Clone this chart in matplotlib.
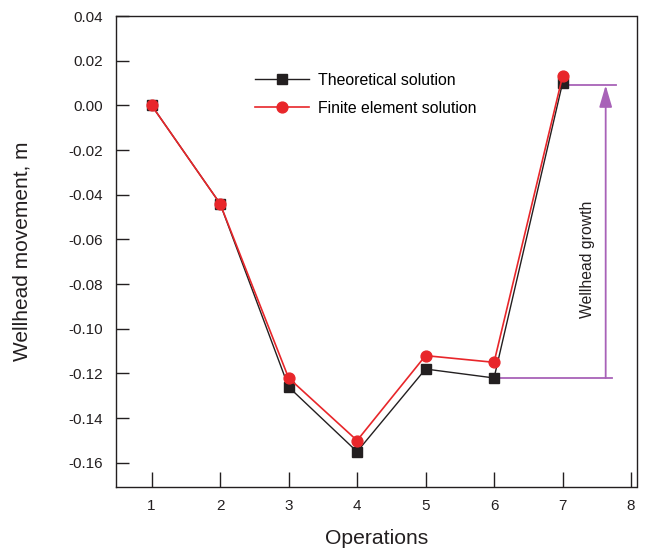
import matplotlib
matplotlib.use("Agg")
import matplotlib.pyplot as plt

plt.rcParams['font.family'] = ['Liberation Sans', 'DejaVu Sans']

operations = [1, 2, 3, 4, 5, 6, 7]
theoretical = [0.000, -0.044, -0.126, -0.155, -0.118, -0.122, 0.010]
finite_element = [0.000, -0.044, -0.122, -0.150, -0.112, -0.115, 0.013]
xticks = [1, 2, 3, 4, 5, 6, 7, 8]
yticks = [-0.16, -0.14, -0.12, -0.10, -0.08, -0.06, -0.04, -0.02, 0.00, 0.02, 0.04]

black = '#231f20'
red = '#e8262a'
purple = '#a862b8'

fig = plt.figure(figsize=(6.5, 5.49), dpi=100)
ax = fig.add_axes([116/650, 1 - 487/549, (636.5 - 116)/650, (487 - 16)/549])

ax.plot(operations, theoretical, color=black, lw=1.0, marker='s', ms=6.8,
        mec=black, mfc=black, label='Theoretical solution', zorder=3)
ax.plot(operations, finite_element, color=red, lw=1.2, marker='o', ms=7.8,
        mec=red, mfc=red, label='Finite element solution', zorder=4)

# Wellhead growth annotation
ax.plot([6.05, 7.72], [theoretical[5], theoretical[5]], color=purple, lw=1.3, zorder=2)
ax.plot([7.05, 7.78], [0.009, 0.009], color=purple, lw=1.3, zorder=2)
ax.annotate('', xy=(7.63, 0.009), xytext=(7.63, theoretical[5]),
            arrowprops=dict(arrowstyle='-|>,head_length=0.95,head_width=0.28',
                            color=purple, lw=1.3, shrinkA=0, shrinkB=0,
                            mutation_scale=14), zorder=2)
ax.text(7.37, -0.069, 'Wellhead growth', rotation=90, ha='center', va='center',
        fontsize=11.3, color=black)

ax.set_xlim(0.48, 8.08)
ax.set_ylim(-0.1708, 0.04)
ax.set_xticks(xticks)
ax.set_yticks(yticks)
ax.set_yticklabels([f'{v:.2f}' for v in yticks])
ax.tick_params(direction='in', length=9, width=1, labelsize=11, colors=black)
ax.tick_params(axis='x', length=11, pad=9)
ax.tick_params(axis='y', pad=9)
for s in ax.spines.values():
    s.set_linewidth(1.0)
    s.set_color(black)

ax.set_xlabel('Operations', fontsize=15.2, color=black, labelpad=11)
ax.set_ylabel('Wellhead movement, m', fontsize=15, color=black, labelpad=27)

ax.legend(loc='upper left', bbox_to_anchor=(0.255, 0.893), frameon=False,
          fontsize=11.4, handlelength=3.4, handletextpad=0.6, labelspacing=0.83,
          borderaxespad=0)

fig.savefig('out.png', dpi=100)
